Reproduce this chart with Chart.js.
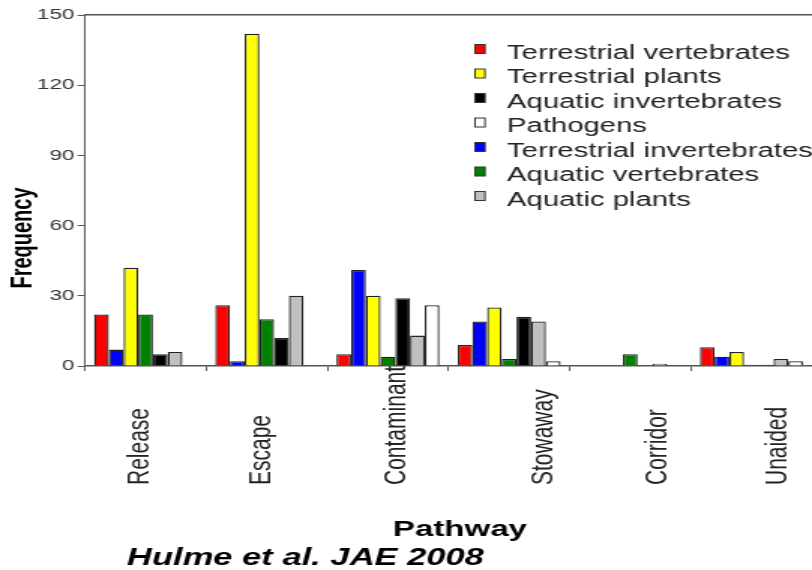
<!DOCTYPE html>
<html>
<head>
<meta charset="utf-8">
<title>Pathways</title>
<script src="https://cdn.jsdelivr.net/npm/chart.js@4/dist/chart.umd.min.js"></script>
<style>
  body { margin: 0; background: #fff; }
  /* the source slide is stretched sideways, so the canvas is drawn narrow and widened */
  #chart { display: block; width: 812px !important; height: 570px !important; }
</style>
</head>
<body>
<canvas id="chart" width="541" height="570"></canvas>
<script>
// categories on the x axis
const pathways = ['Release', 'Escape', 'Contaminant', 'Stowaway', 'Corridor', 'Unaided'];
const yTicks = [0, 30, 60, 90, 120, 150];

// frequencies per pathway, one array per group (bar order inside a group)
const terrestrialVertebrates   = [22, 26, 5, 9, 0, 8];
const terrestrialInvertebrates = [7, 2, 41, 19, 0, 4];
const terrestrialPlants        = [42, 142, 30, 25, 0, 6];
const aquaticVertebrates       = [22, 20, 4, 3, 5, 0.5];
const aquaticInvertebrates     = [5, 12, 29, 21, 0, 0.5];
const aquaticPlants            = [6, 30, 13, 19, 1, 3];
const pathogens                = [0, 0, 26, 2, 0, 2];

const seriesNames = ['Terrestrial vertebrates', 'Terrestrial invertebrates', 'Terrestrial plants',
  'Aquatic vertebrates', 'Aquatic invertebrates', 'Aquatic plants', 'Pathogens'];
const seriesValues = [terrestrialVertebrates, terrestrialInvertebrates, terrestrialPlants,
  aquaticVertebrates, aquaticInvertebrates, aquaticPlants, pathogens];
const seriesColors = ['#ff0000', '#0000ff', '#ffff00', '#008000', '#000000', '#c0c0c0', '#ffffff'];

// the legend lists the groups in another order than the bars
const legendOrder = ['Terrestrial vertebrates', 'Terrestrial plants', 'Aquatic invertebrates',
  'Pathogens', 'Terrestrial invertebrates', 'Aquatic vertebrates', 'Aquatic plants'];

const SX = 812 / 541;           // horizontal stretch of the canvas
const FONT = '"Liberation Sans", Arial, sans-serif';
const labelShift = [-6, -6, 8, 34, 28, 27]; // category labels sit a bit off centre (page px)

Chart.defaults.font.family = FONT;

// texts and legend drawn on top of the chart
const overlay = {
  id: 'overlay',
  afterDraw(chart) {
    const ctx = chart.ctx;
    const xs = chart.scales.x;
    ctx.save();

    // category labels, reading bottom to top
    ctx.fillStyle = '#222';
    ctx.font = '21px ' + FONT;
    ctx.textAlign = 'left';
    ctx.textBaseline = 'middle';
    pathways.forEach((p, i) => {
      ctx.save();
      ctx.translate(xs.getPixelForTick(i) + labelShift[i] / SX, 485);
      ctx.rotate(-Math.PI / 2);
      ctx.fillText(p, 0, 0);
      ctx.restore();
    });

    // y title
    ctx.fillStyle = '#000';
    ctx.font = 'bold 20px ' + FONT;
    ctx.textAlign = 'center';
    ctx.save();
    ctx.translate(15, 238);
    ctx.rotate(-Math.PI / 2);
    ctx.fillText('Frequency', 0, 0);
    ctx.restore();

    // x title
    ctx.textBaseline = 'alphabetic';
    ctx.font = 'bold 22px ' + FONT;
    ctx.fillText('Pathway', 460 / SX, 536);

    // source note
    ctx.textAlign = 'left';
    ctx.font = 'italic bold 23px ' + FONT;
    ctx.fillText('Hulme et al. JAE 2008', 127 / SX, 565);

    // legend
    ctx.font = '19.5px ' + FONT;
    legendOrder.forEach((name, i) => {
      const k = seriesNames.indexOf(name);
      const cy = 49 + i * 24.5;
      ctx.fillStyle = seriesColors[k];
      ctx.fillRect(475 / SX, cy - 4.5, 10 / SX, 9);
      ctx.strokeStyle = '#333';
      ctx.lineWidth = 1;
      ctx.strokeRect(475 / SX, cy - 4.5, 10 / SX, 9);
      ctx.fillStyle = '#222';
      ctx.fillText(name, 507 / SX, cy + 9.5);
    });

    ctx.restore();
  }
};

new Chart(document.getElementById('chart'), {
  type: 'bar',
  data: {
    labels: pathways,
    datasets: seriesNames.map((name, k) => ({
      label: name,
      data: seriesValues[k],
      backgroundColor: seriesColors[k],
      borderColor: '#222',
      borderWidth: 1.3,
      categoryPercentage: 0.85,
      barPercentage: 1
    }))
  },
  options: {
    responsive: false,
    devicePixelRatio: 1,
    animation: false,
    layout: { padding: { top: 15, left: 0, right: 0, bottom: 0 } },
    plugins: {
      legend: { display: false },
      tooltip: { enabled: false }
    },
    scales: {
      x: {
        grid: { drawOnChartArea: false, tickLength: 5, color: '#555' },
        ticks: { display: false },
        border: { color: '#555', width: 1.5 },
        afterFit: s => { s.height = 570 - 366; }
      },
      x2: {
        position: 'top',
        grid: { drawOnChartArea: false, drawTicks: false, color: '#555' },
        ticks: { display: false },
        border: { color: '#555', width: 1.5 },
        afterFit: s => { s.height = 0; }
      },
      y: {
        min: yTicks[0],
        max: yTicks[yTicks.length - 1],
        afterBuildTicks: s => { s.ticks = yTicks.map(v => ({ value: v })); },
        ticks: { color: '#333', font: { size: 15 }, padding: 2 },
        grid: { drawOnChartArea: false, tickLength: 5, color: '#555' },
        border: { color: '#555', width: 1 },
        afterFit: s => { s.width = 85 / SX; }
      }
    }
  },
  plugins: [overlay]
});
</script>
</body>
</html>
